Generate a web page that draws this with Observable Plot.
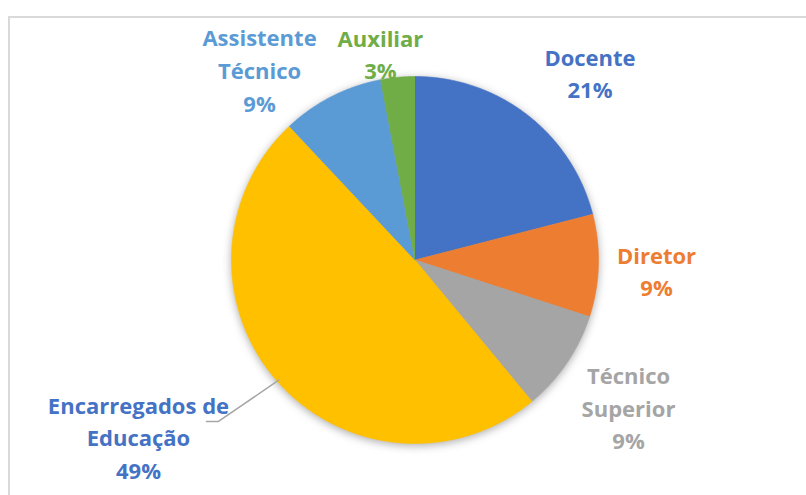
<!DOCTYPE html>
<html>
<head>
<meta charset="utf-8">
<script src="https://cdn.jsdelivr.net/npm/d3@7"></script>
<script src="https://cdn.jsdelivr.net/npm/@observablehq/plot@0.6"></script>
<style>
  html, body { margin: 0; padding: 0; background: #fff; }
  #wrap { position: relative; width: 806px; height: 495px; overflow: hidden; }
  #frame { position: absolute; left: 8px; top: 16px; width: 820px; height: 500px;
           border-left: 2px solid #D9D9D9; border-top: 2px solid #D9D9D9; box-sizing: border-box; }
  #chart { position: absolute; left: 0; top: 0; }
  .pie { filter: drop-shadow(0px 2px 4px rgba(0,0,0,0.32)); }
</style>
</head>
<body>
<div id="wrap"><div id="frame"></div><div id="chart"></div></div>
<script>
// ---- data ----
const categories = ["Docente", "Diretor", "Técnico Superior", "Encarregados de Educação", "Assistente Técnico", "Auxiliar"];
const values = [21, 9, 9, 49, 9, 3];
const labelTexts = ["Docente", "Diretor", "Técnico\nSuperior", "Encarregados de\nEducação", "Assistente\nTécnico", "Auxiliar"];
const sliceColors = ["#4472C4", "#ED7D31", "#A5A5A5", "#FFC000", "#5B9BD5", "#70AD47"];
const labelColors = ["#4472C4", "#ED7D31", "#A5A5A5", "#4472C4", "#5B9BD5", "#70AD47"];
const leaderCategories = ["Encarregados de Educação"];

// ---- layout (pixels) ----
const W = 806, H = 495;
const CX = 414.5, CY = 259.5, R = 183.5;
const labelRadius = 1.3;
const labelNudge = { // px nudges from the base label point
  "Docente": [28.8, 0.0],
  "Diretor": [3.1, 2.0],
  "Técnico Superior": [16.2, 12.4],
  "Encarregados de Educação": [-97.6, 18.2],
  "Assistente Técnico": [-47.2, 21.1],
  "Auxiliar": [-12.1, 30.0]
};

const total = d3.sum(values);
let acc = 0;
const slices = categories.map((c, i) => {
  const a0 = acc / total * 2 * Math.PI;
  acc += values[i];
  const a1 = acc / total * 2 * Math.PI;
  return { cat: c, value: values[i], a0, a1, mid: (a0 + a1) / 2, i };
});

// polygon points of each slice (unit circle, y up, angle clockwise from top)
const piePoints = [];
for (const s of slices) {
  piePoints.push({ cat: s.cat, x: 0, y: 0 });
  const n = Math.max(2, Math.ceil((s.a1 - s.a0) / (Math.PI / 360)));
  for (let k = 0; k <= n; k++) {
    const a = s.a0 + (s.a1 - s.a0) * k / n;
    piePoints.push({ cat: s.cat, x: Math.sin(a), y: Math.cos(a) });
  }
}

const labels = slices.map(s => {
  const [nx, ny] = labelNudge[s.cat];
  return {
    cat: s.cat,
    x: labelRadius * Math.sin(s.mid) + nx / R,
    y: labelRadius * Math.cos(s.mid) - ny / R,
    text: labelTexts[s.i] + "\n" + Math.round(s.value / total * 100) + "%",
    color: labelColors[s.i]
  };
});

const leaderPoints = [];
for (const s of slices.filter(s => leaderCategories.includes(s.cat))) {
  const L = labels[s.i];
  leaderPoints.push({ cat: s.cat, x: 0.99 * Math.sin(s.mid), y: 0.99 * Math.cos(s.mid) });
  leaderPoints.push({ cat: s.cat, x: L.x + 80 / R, y: L.y + 14.5 / R });
  leaderPoints.push({ cat: s.cat, x: L.x + 68 / R, y: L.y + 14.5 / R });
}

const chart = Plot.plot({
  width: W,
  height: H,
  margin: 0,
  style: { background: "transparent", overflow: "visible" },
  x: { domain: [-CX / R, (W - CX) / R], axis: null },
  y: { domain: [-(H - CY) / R, CY / R], axis: null },
  color: { domain: categories, range: sliceColors },
  marks: [
    Plot.line(piePoints, { x: "x", y: "y", z: "cat", fill: "cat", stroke: "cat", strokeWidth: 0.6, className: "pie" }),
    Plot.line(leaderPoints, { x: "x", y: "y", z: "cat", stroke: "#A6A6A6", strokeWidth: 1.5 }),
    labels.map(l => Plot.text([l], {
      x: "x", y: "y", text: "text",
      fill: l.color,
      fontFamily: "Open Sans",
      fontWeight: "bold",
      fontSize: 22,
      lineHeight: 1.48,
      textAnchor: "middle",
      lineAnchor: "middle"
    }))
  ]
});
document.getElementById("chart").appendChild(chart);
</script>
</body>
</html>
